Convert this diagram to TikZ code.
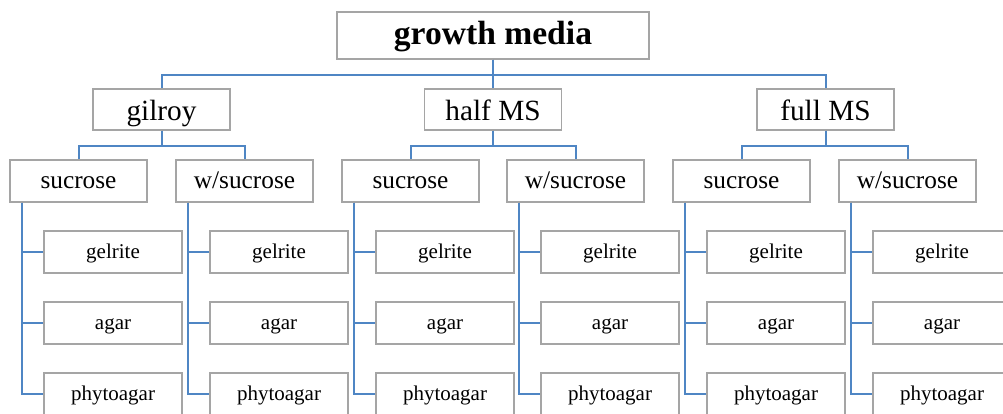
\documentclass[tikz,border=0pt]{standalone}
\usepackage{fontspec}
\setmainfont{Liberation Serif}
\definecolor{linkblue}{RGB}{79,134,196}
\definecolor{boxgray}{RGB}{165,165,165}
\begin{document}
\begin{tikzpicture}[x=1pt,y=-1pt,
  box/.style={draw=boxgray,line width=1.3pt,fill=white,inner sep=0pt,align=center,text depth=0pt},
  rootbox/.style={box,minimum width=312pt,minimum height=47pt,font=\fontsize{33.6}{40}\selectfont\bfseries,text height=17pt},
  lvtwo/.style={box,minimum width=137pt,minimum height=41pt,font=\fontsize{29.3}{34}\selectfont,text height=21pt},
  lvthree/.style={box,minimum width=137pt,minimum height=42pt,font=\fontsize{25.3}{30}\selectfont,text height=14pt},
  leaf/.style={box,minimum width=138pt,minimum height=42pt,font=\fontsize{21}{25}\selectfont,text height=13.5pt},
  link/.style={draw=linkblue,line width=2pt}]
\useasboundingbox (0,0) rectangle (1003,413);
\clip (0,0) rectangle (1003,413);
% root and level 2
\node[rootbox] (root) at (493,35.5) {growth media};
\node[lvtwo] (gil) at (161.5,109.5) {gilroy};
\node[lvtwo] (half) at (493,109.5) {half MS};
\node[lvtwo] (full) at (825.5,109.5) {full MS};
\draw[link] (root.south) -- ++(0,15) -| (gil.north);
\draw[link] (root.south) -- ++(0,15) -| (full.north);
\draw[link] (root.south) -- (half.north);
% level 3
\node[lvthree] (gs) at (78.5,181) {sucrose};
\node[lvthree] (gw) at (244.5,181) {w/sucrose};
\node[lvthree] (hs) at (410.5,181) {sucrose};
\node[lvthree] (hw) at (575.5,181) {w/sucrose};
\node[lvthree] (fs) at (741.5,181) {sucrose};
\node[lvthree] (fw) at (907.5,181) {w/sucrose};
\draw[link] (gil.south) -- ++(0,15) -| (gs.north);
\draw[link] (gil.south) -- ++(0,15) -| (gw.north);
\draw[link] (half.south) -- ++(0,15) -| (hs.north);
\draw[link] (half.south) -- ++(0,15) -| (hw.north);
\draw[link] (full.south) -- ++(0,15) -| (fs.north);
\draw[link] (full.south) -- ++(0,15) -| (fw.north);
% leaves
\foreach \p/\cx in {gs/78.5,gw/244.5,hs/410.5,hw/575.5,fs/741.5,fw/907.5}{
  \node[leaf] (\p-a) at (\cx+34.5,252) {gelrite};
  \node[leaf] (\p-b) at (\cx+34.5,323) {agar};
  \node[leaf] (\p-c) at (\cx+34.5,394) {phytoagar};
  \foreach \c in {a,b,c}
    \draw[link] ([xshift=13pt]\p.south west) |- (\p-\c.west);
}
\end{tikzpicture}
\end{document}
